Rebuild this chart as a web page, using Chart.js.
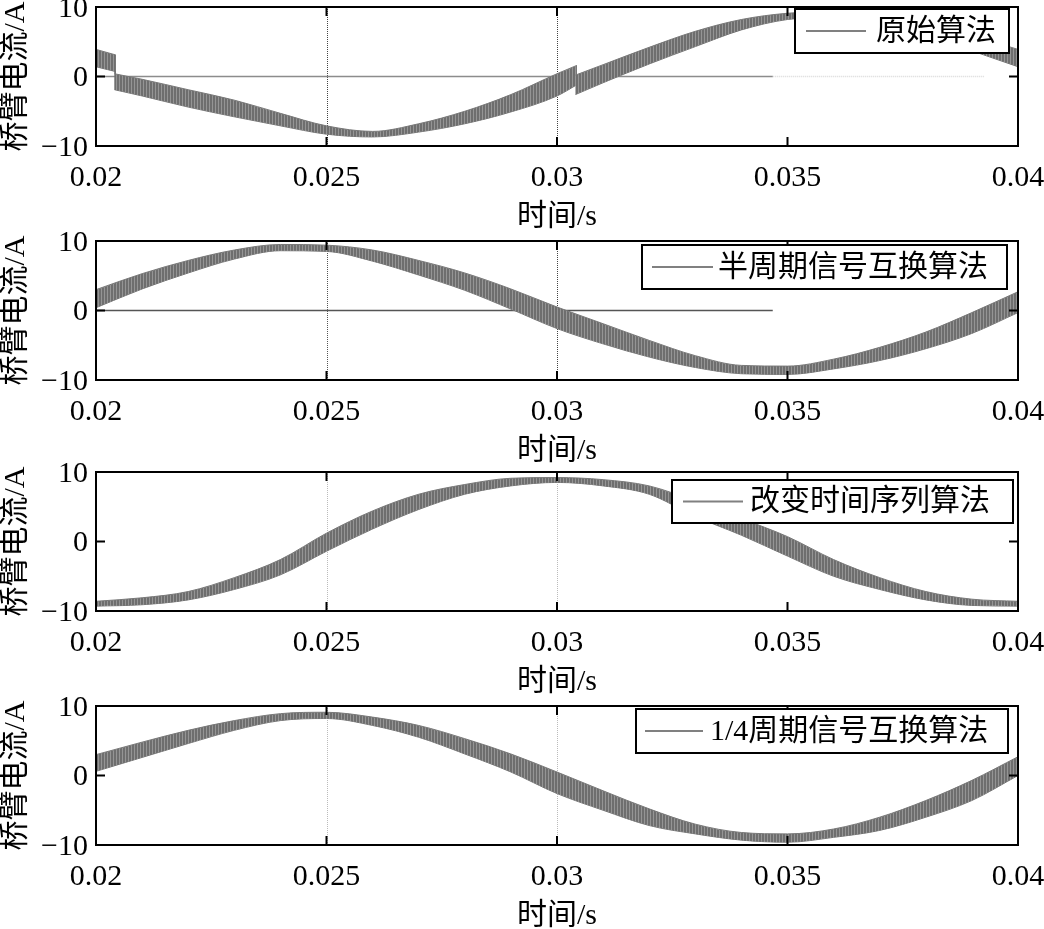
<!DOCTYPE html>
<html>
<head>
<meta charset="utf-8">
<script src="https://cdn.jsdelivr.net/npm/chart.js@4.4.1/dist/chart.umd.min.js"></script>
<style>
    html, body { margin: 0; padding: 0; background: #fff; overflow: hidden; }
    #wrap { position: relative; width: 1044px; height: 929px; overflow: hidden; }
    .panel { position: absolute; left: 0; width: 1044px; height: 258px; }
</style>
</head>
<body>
<div id="wrap">
    <div class="panel" style="top:-23px"><canvas id="c1" width="1044" height="258"></canvas></div>
    <div class="panel" style="top:211px"><canvas id="c2" width="1044" height="258"></canvas></div>
    <div class="panel" style="top:442px"><canvas id="c3" width="1044" height="258"></canvas></div>
    <div class="panel" style="top:676px"><canvas id="c4" width="1044" height="258"></canvas></div>
</div>
<script>
// axis ticks
const xTicks = [0.02, 0.025, 0.03, 0.035, 0.04];
const yTicks = [-10, 0, 10];
const cursorT = [0.025, 0.03];

// sample times (s); the first panel has two switching jumps (null = break)
const time = [0.020, 0.021, 0.022, 0.023, 0.024, 0.025, 0.026, 0.027, 0.028, 0.029, 0.030,
              0.031, 0.032, 0.033, 0.034, 0.035, 0.036, 0.037, 0.038, 0.039, 0.040];
const time1 = [0.020, 0.02043, 0.0204, 0.0204, 0.021, 0.022, 0.023, 0.024, 0.025, 0.026, 0.027, 0.028, 0.029, 0.030,
               0.03043, 0.0304, 0.0304, 0.031, 0.032, 0.033, 0.034, 0.035, 0.036, 0.037, 0.038, 0.039, 0.040];

// ripple band, upper / lower edge (A)
const hi1 = [3.9, 3.1, null, 0.4, -0.4, -1.9, -3.4, -5.3, -7.1, -7.9, -6.8, -5.0, -2.6, 0.4,
             1.6, null, 0.2, 1.7, 4.2, 6.5, 8.2, 9.1, 9.3, 8.7, 7.6, 5.9, 3.9];
const lo1 = [1.4, 0.7, null, -1.9, -2.8, -4.4, -5.8, -7.1, -8.3, -8.7, -8.0, -6.8, -5.1, -2.8,
             -1.2, null, -2.6, -0.9, 1.8, 4.3, 6.7, 8.2, 8.5, 7.5, 5.9, 3.7, 1.4];

const hi2 = [3.0, 5.3, 7.2, 8.7, 9.5, 9.4, 8.7, 7.2, 5.4, 3.1, 0.5,
             -1.9, -4.3, -6.5, -7.9, -8.0, -7.0, -5.3, -3.1, -0.3, 2.7];
const lo2 = [0.4, 3.1, 5.4, 7.4, 8.6, 8.5, 7.1, 5.1, 2.9, 0.2, -2.6,
             -4.8, -6.7, -8.2, -9.1, -9.2, -8.4, -7.2, -5.5, -3.3, -0.3];

const hi3 = [-8.6, -8.1, -7.2, -5.2, -2.6, 1.2, 4.4, 6.8, 8.2, 9.1, 9.2,
             8.9, 8.0, 5.8, 3.3, 0.7, -2.6, -5.2, -7.2, -8.3, -8.6];
const lo3 = [-9.3, -9.1, -8.4, -6.9, -4.8, -1.4, 1.8, 4.6, 6.8, 8.0, 8.5,
             8.0, 6.8, 3.6, 0.9, -2.1, -5.0, -6.9, -8.4, -9.2, -9.3];

const hi4 = [3.0, 4.8, 6.5, 7.9, 8.9, 9.1, 8.4, 7.2, 5.3, 3.1, 0.5,
             -2.2, -4.8, -7.0, -8.2, -8.4, -7.7, -6.0, -3.6, -0.7, 2.7];
const lo4 = [0.6, 2.6, 4.6, 6.5, 7.9, 8.2, 7.2, 5.5, 3.1, 0.5, -2.6,
             -5.0, -7.2, -8.4, -9.3, -9.6, -8.9, -7.9, -6.0, -3.6, 0.0];

// stray zero line left on the first two panels
const refSolidT = [0.02, 0.03468];
const refFaintT = [0.03468, 0.03928];
const refY = [0, 0];

const names = ['原始算法', '半周期信号互换算法', '改变时间序列算法', '1/4周期信号互换算法'];

const FONT = "'Liberation Serif', 'Noto Sans CJK SC', serif";
const BAND = '#787878';

// vertical hatching so the band reads like dense switching ripple
function ripplePattern() {
    const c = document.createElement('canvas');
    c.width = 3; c.height = 4;
    const g = c.getContext('2d');
    g.fillStyle = '#6e6e6e';
    g.fillRect(0, 0, 3, 4);
    g.fillStyle = '#959595';
    g.fillRect(2, 0, 1, 4);
    return g.createPattern(c, 'repeat');
}

function pts(t, v) {
    return t.map((x, i) => ({ x: x, y: v[i] }));
}

// frame, inward ticks, cursor lines and the hand placed legend box
const framePlugin = {
    id: 'frame',
    beforeDatasetsDraw(chart, args, opts) {
        const ctx = chart.ctx, a = chart.chartArea, xs = chart.scales.x;
        ctx.save();
        ctx.lineWidth = 1;
        ctx.setLineDash([1, 1]);
        cursorT.forEach((t, i) => {
            const px = Math.round(xs.getPixelForValue(t)) + 0.5;
            ctx.strokeStyle = opts.cursorColors[i];
            ctx.beginPath();
            ctx.moveTo(px, a.top);
            ctx.lineTo(px, a.bottom);
            ctx.stroke();
        });
        ctx.restore();
    },
    afterDatasetsDraw(chart) {
        const ctx = chart.ctx, a = chart.chartArea;
        const xs = chart.scales.x, ys = chart.scales.y;
        ctx.save();
        ctx.strokeStyle = '#000';
        ctx.lineWidth = 2;
        ctx.strokeRect(a.left, a.top, a.right - a.left, a.bottom - a.top);
        ctx.beginPath();
        xTicks.forEach(t => {
            const px = xs.getPixelForValue(t);
            ctx.moveTo(px, a.bottom); ctx.lineTo(px, a.bottom - 9);
            ctx.moveTo(px, a.top); ctx.lineTo(px, a.top + 9);
        });
        yTicks.forEach(v => {
            const py = ys.getPixelForValue(v);
            ctx.moveTo(a.left, py); ctx.lineTo(a.left + 9, py);
            ctx.moveTo(a.right, py); ctx.lineTo(a.right - 9, py);
        });
        ctx.stroke();
        ctx.restore();
    },
    afterDraw(chart, args, opts) {
        const ctx = chart.ctx, lg = opts.legend;
        const [bx, by, bw, bh] = lg.box;
        const cy = by + bh / 2;
        ctx.save();
        ctx.fillStyle = '#fff';
        ctx.fillRect(bx, by, bw, bh);
        ctx.strokeStyle = '#000';
        ctx.lineWidth = 2;
        ctx.strokeRect(bx, by, bw, bh);
        ctx.strokeStyle = '#808080';
        ctx.lineWidth = 2;
        ctx.beginPath();
        ctx.moveTo(lg.line[0], cy);
        ctx.lineTo(lg.line[1], cy);
        ctx.stroke();
        ctx.fillStyle = '#000';
        ctx.font = '30px ' + FONT;
        ctx.textAlign = 'left';
        ctx.textBaseline = 'middle';
        ctx.fillText(lg.text, lg.textX, cy + 1);
        ctx.restore();
    }
};

function makeChart(id, t, hi, lo, extra, cursorColors, legend) {
    const fillPattern = ripplePattern();
    const datasets = [
        {
            data: pts(t, hi), borderColor: BAND, backgroundColor: fillPattern, borderWidth: 1,
            pointRadius: 0, fill: '+1', spanGaps: false, cubicInterpolationMode: 'monotone'
        },
        {
            data: pts(t, lo), borderColor: BAND, borderWidth: 1,
            pointRadius: 0, fill: false, spanGaps: false, cubicInterpolationMode: 'monotone'
        }
    ].concat(extra);

    return new Chart(document.getElementById(id), {
        type: 'line',
        data: { datasets: datasets },
        plugins: [framePlugin],
        options: {
            responsive: false,
            devicePixelRatio: 1,
            animation: false,
            layout: { padding: { left: 0, right: 26, top: 30, bottom: 0 } },
            plugins: {
                legend: { display: false },
                tooltip: { enabled: false },
                frame: { cursorColors: cursorColors, legend: legend }
            },
            scales: {
                x: {
                    type: 'linear', min: 0.02, max: 0.04,
                    afterBuildTicks: s => { s.ticks = xTicks.map(v => ({ value: v })); },
                    afterFit: s => { s.height = 89; s.paddingLeft = 0; s.paddingRight = 0; },
                    grid: { display: false, drawTicks: false },
                    border: { display: false },
                    ticks: {
                        color: '#000', padding: 14, maxRotation: 0, autoSkip: false,
                        font: { family: FONT, size: 30 },
                        callback: v => String(Number(v.toFixed(3)))
                    },
                    title: {
                        display: true, text: '时间/s', color: '#000',
                        font: { family: FONT, size: 30, lineHeight: 1.2 },
                        padding: { top: 0, bottom: 0 }
                    }
                },
                y: {
                    min: -10, max: 10,
                    afterBuildTicks: s => { s.ticks = yTicks.map(v => ({ value: v })); },
                    afterFit: s => { s.width = 96; s.paddingTop = 0; s.paddingBottom = 0; },
                    grid: { display: false, drawTicks: false },
                    border: { display: false },
                    ticks: {
                        color: '#000', padding: 8, labelOffset: 2,
                        font: { family: FONT, size: 30 },
                        callback: v => v < 0 ? '\u2212' + Math.abs(v) : String(v)
                    },
                    title: {
                        display: true, text: '桥臂电流/A', color: '#000',
                        font: { family: FONT, size: 30, lineHeight: 1 },
                        padding: { top: 1, bottom: 0 }
                    }
                }
            }
        }
    });
}

function refLine(t, color, dash) {
    return {
        data: pts(t, refY), borderColor: color, borderWidth: 1.5, borderDash: dash,
        pointRadius: 0, fill: false
    };
}

// legend boxes sit at slightly different places in each panel (canvas px)
makeChart('c1', time1, hi1, lo1,
    [refLine(refSolidT, '#8c8c8c', []), refLine(refFaintT, '#d8d8d8', [1, 1])],
    ['#444', '#444'],
    { box: [795, 32, 214, 44], line: [806, 866], textX: 876, text: names[0] });

makeChart('c2', time, hi2, lo2,
    [refLine(refSolidT, '#555', [])],
    ['#555', '#444'],
    { box: [642, 34, 365, 44], line: [652, 713], textX: 718, text: names[1] });

makeChart('c3', time, hi3, lo3, [],
    ['#bbb', '#bbb'],
    { box: [672, 38, 341, 43], line: [683, 743], textX: 750, text: names[2] });

makeChart('c4', time, hi4, lo4, [],
    ['#bbb', '#bbb'],
    { box: [636, 33, 372, 44], line: [645, 703], textX: 710, text: names[3] });
</script>
</body>
</html>
